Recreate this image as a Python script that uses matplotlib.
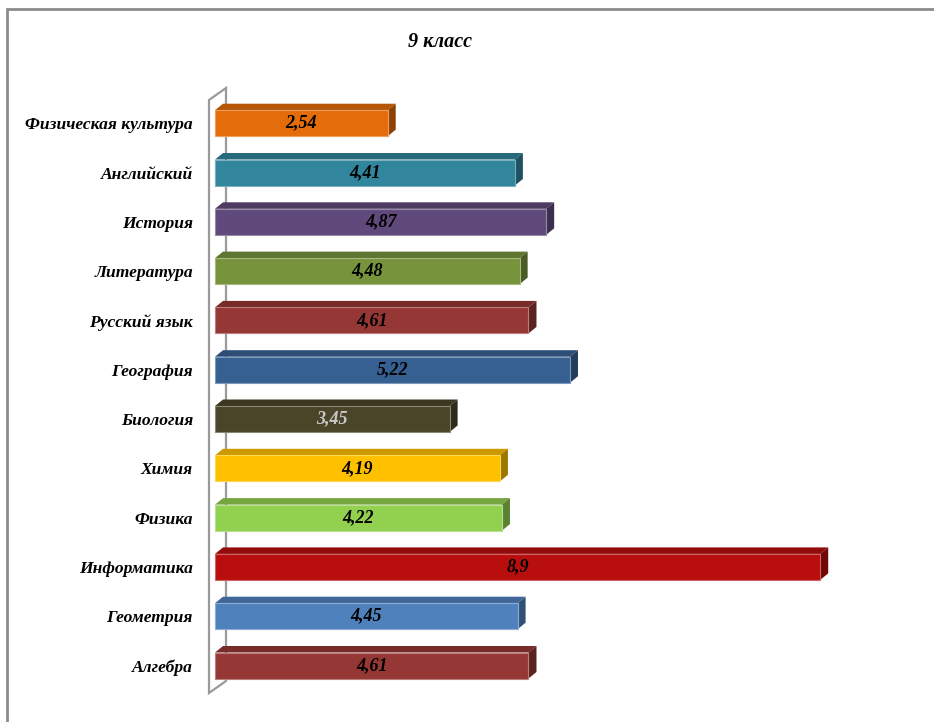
import matplotlib
matplotlib.use("Agg")
import matplotlib.pyplot as plt
from matplotlib.patches import Polygon, Rectangle
from matplotlib.colors import to_rgb

# ---- data (bottom to top) ----
categories = ["Алгебра", "Геометрия", "Информатика", "Физика", "Химия", "Биология",
              "География", "Русский язык", "Литература", "История", "Английский",
              "Физическая культура"]
values = [4.61, 4.45, 8.9, 4.22, 4.19, 3.45, 5.22, 4.61, 4.48, 4.87, 4.41, 2.54]
value_labels = ["4,61", "4,45", "8,9", "4,22", "4,19", "3,45", "5,22", "4,61", "4,48",
                "4,87", "4,41", "2,54"]
colors = ["#953735", "#4F81BD", "#B80E0E", "#92D050", "#FFC000", "#4A4529",
          "#376092", "#953735", "#77933C", "#604A7B", "#31859C", "#E46C0A"]
label_colors = ["black"] * 5 + ["#C8C8C8"] + ["black"] * 6
title = "9 класс"

W, H = 934, 722
fig = plt.figure(figsize=(W / 100, H / 100), dpi=100)
font = "Liberation Serif"

# outer chart border (cropped at right and bottom)
fig.patches.append(Rectangle((6.5 / W, -0.05), 1.1, 1.05 - 8.5 / H, transform=fig.transFigure,
                             fill=False, edgecolor="#8C8C8C", linewidth=2.0))

px_x, px_y = 68.0, 49.3          # pixels per data unit
y_first = 665.5                  # pixel row of the first category centre
ax = fig.add_axes([215 / W, (H - 693) / H, 685 / W, 605 / H])
ax.set_xlim(0, 685 / px_x)
y0 = -(693 - y_first) / px_y
ax.set_ylim(y0, y0 + 605 / px_y)
for s in ax.spines.values():
    s.set_visible(False)
ax.set_xticks([])

# side wall
dxw, dyw = 17 / px_x, 12 / px_y
wx = -6 / px_x
wtop = y0 + (693 - 100) / px_y
wbot = y0
wall = Polygon([(wx, wbot), (wx, wtop), (wx + dxw, wtop + dyw), (wx + dxw, wbot + dyw)],
               closed=True, facecolor="white", edgecolor="#9A9A9A", linewidth=1.6,
               clip_on=False, zorder=1)
ax.add_patch(wall)


def shade(c, f):
    r, g, b = to_rgb(c)
    return (r * f, g * f, b * f)


def tint(c, f):
    r, g, b = to_rgb(c)
    return (r + (1 - r) * f, g + (1 - g) * f, b + (1 - b) * f)


bh = 26 / px_y
dx, dy = 8 / px_x, 6.5 / px_y
for i, (v, c) in enumerate(zip(values, colors)):
    yb, yt = i - bh / 2, i + bh / 2
    front = Rectangle((0, yb), v, bh, facecolor=c, edgecolor=tint(c, 0.35), linewidth=0.8,
                      zorder=3, clip_on=False)
    top = Polygon([(0, yt), (v, yt), (v + dx, yt + dy), (dx, yt + dy)], closed=True,
                  facecolor=shade(c, 0.8), edgecolor="none", zorder=3, clip_on=False)
    side = Polygon([(v, yb), (v, yt), (v + dx, yt + dy), (v + dx, yb + dy)], closed=True,
                   facecolor=shade(c, 0.62), edgecolor="none", zorder=3, clip_on=False)
    ax.add_patch(top)
    ax.add_patch(side)
    ax.add_patch(front)
    ax.text(v / 2, i, value_labels[i], ha="center", va="center", fontsize=13,
            fontfamily=font, fontweight="bold", fontstyle="italic",
            color=label_colors[i], zorder=5)

ax.set_yticks(range(len(categories)))
ax.set_yticklabels(categories, fontfamily=font, fontweight="bold", fontstyle="italic",
                   fontsize=12.6)
ax.tick_params(axis="y", length=0, pad=22 * 0.72)
ax.set_facecolor("none")

fig.text(440 / W, 1 - 42 / H, title, ha="center", va="center", fontsize=14.5,
         fontfamily=font, fontweight="bold", fontstyle="italic")

fig.savefig("out.png", dpi=100, facecolor="white")
